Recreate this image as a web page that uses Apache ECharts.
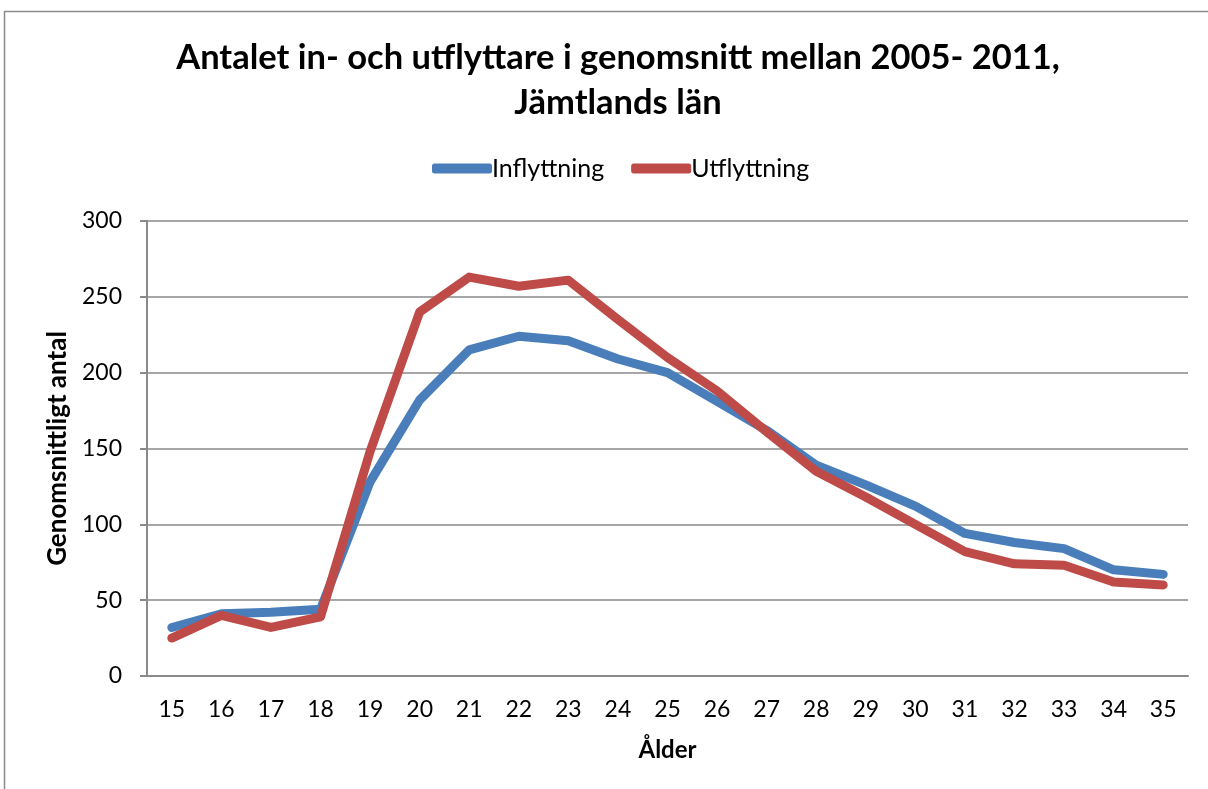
<!DOCTYPE html>
<html>
<head>
<meta charset="utf-8">
<script src="https://cdn.jsdelivr.net/npm/echarts@6/dist/echarts.min.js"></script>
<style>
  html, body { margin: 0; padding: 0; background: #fff; }
  #chart { width: 1208px; height: 789px; }
</style>
</head>
<body>
<div id="chart"></div>
<script>
// age categories
const ages = ['15','16','17','18','19','20','21','22','23','24','25','26','27','28','29','30','31','32','33','34','35']
// average number moving in / out per age, 2005-2011
const inflyttning = [32, 41, 42, 44, 128, 182, 215, 224, 221, 209, 200, 181, 162, 139, 126, 112, 94, 88, 84, 70, 67]
const utflyttning = [25, 40, 32, 39, 148, 240, 263, 257, 261, 235, 210, 188, 161, 135, 118, 100, 82, 74, 73, 62, 60]

const FONT = 'Lato, "Open Sans", sans-serif'

const chart = echarts.init(document.getElementById('chart'))
chart.setOption({
  animation: false,
  textStyle: { fontFamily: FONT },
  graphic: [{
    type: 'rect',
    shape: { x: 4.5, y: 11.5, width: 1230, height: 800 },
    style: { fill: 'none', stroke: '#8a8a8a', lineWidth: 1.5 },
    silent: true
  }],
  title: {
    text: 'Antalet in- och utflyttare i genomsnitt mellan 2005- 2011,\nJämtlands län',
    left: 613,
    textAlign: 'center',
    top: 30,
    textStyle: {
      fontFamily: FONT,
      fontSize: 34.5,
      fontWeight: 'bold',
      color: '#000',
      lineHeight: 45
    }
  },
  legend: {
    top: 151,
    left: 427,
    itemWidth: 60,
    itemHeight: 10,
    itemGap: 27,
    icon: 'roundRect',
    textStyle: { fontFamily: FONT, fontSize: 25, color: '#000', padding: [0, 0, 0, -5] },
    data: ['Inflyttning', 'Utflyttning']
  },
  grid: {
    left: 147,
    right: 20,
    top: 221,
    bottom: 113,
    containLabel: false
  },
  xAxis: {
    type: 'category',
    data: ages,
    boundaryGap: true,
    name: 'Ålder',
    nameLocation: 'middle',
    nameGap: 62,
    nameTextStyle: { fontFamily: FONT, fontSize: 24, fontWeight: 'bold', color: '#000' },
    axisLine: { lineStyle: { color: '#8a8a8a', width: 2 } },
    axisTick: { show: false },
    axisLabel: { fontFamily: FONT, fontSize: 23, color: '#000', margin: 22 }
  },
  yAxis: {
    type: 'value',
    min: 0,
    max: 300,
    interval: 50,
    name: 'Genomsnittligt antal',
    nameLocation: 'middle',
    nameGap: 73,
    nameTextStyle: { fontFamily: FONT, fontSize: 26, fontWeight: 'bold', color: '#000' },
    axisLine: { show: true, lineStyle: { color: '#8a8a8a', width: 2 } },
    axisTick: { show: true, length: 7, lineStyle: { color: '#8a8a8a', width: 2 } },
    axisLabel: { fontFamily: FONT, fontSize: 23, color: '#000', margin: 25 },
    splitLine: { lineStyle: { color: '#a6a6a6', width: 2 } }
  },
  series: [
    {
      name: 'Inflyttning',
      type: 'line',
      data: inflyttning,
      symbol: 'none',
      color: '#4a7ebb',
      lineStyle: { width: 9, cap: 'round', join: 'round' }
    },
    {
      name: 'Utflyttning',
      type: 'line',
      data: utflyttning,
      symbol: 'none',
      color: '#be4b48',
      lineStyle: { width: 9, cap: 'round', join: 'round' }
    }
  ]
})
</script>
</body>
</html>
